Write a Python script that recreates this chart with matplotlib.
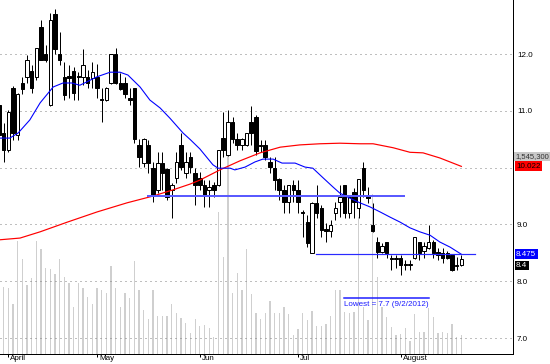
import matplotlib
matplotlib.use("Agg")
import matplotlib.pyplot as plt

plt.rcParams['font.family'] = ['Liberation Sans', 'DejaVu Sans']

# ---------------- data ----------------
opens = [11.10, 10.61, 10.31, 11.40, 10.57, 11.49, 11.60, 11.70, 11.60, 12.48,
         12.00, 11.10, 12.70, 12.00, 11.60, 11.61, 11.70, 11.61, 11.60, 11.60,
         11.58, 11.60, 11.21, 11.19, 11.49, 12.00, 11.49, 11.49, 11.23, 11.40,
         10.40, 10.08, 10.40, 9.99, 9.61, 10.08, 9.98, 9.61, 9.82, 10.40,
         9.91, 10.19, 9.91, 9.82, 9.69, 9.61, 9.69, 9.69, 10.52, 10.22,
         10.80, 10.50, 10.40, 10.40, 10.80, 10.89, 10.40, 10.40, 10.10, 9.99,
         9.80, 9.61, 9.39, 9.69, 9.61, 9.22, 9.04, 8.50, 9.38, 9.29,
         8.92, 8.88, 9.20, 9.39, 9.69, 9.20, 9.57, 9.29, 9.99, 9.52,
         8.99, 8.69, 8.51, 8.69, 8.41, 8.39, 8.41, 8.30, 8.29, 8.41,
         8.69, 8.53, 8.59, 8.69, 8.51, 8.50, 8.50, 8.46, 8.27, 8.29]
highs = [11.19, 10.79, 11.01, 11.44, 11.31, 11.60, 11.98, 11.81, 12.11, 12.60,
         12.16, 12.72, 12.79, 12.39, 11.86, 11.81, 11.77, 11.68, 12.09, 11.72,
         11.86, 11.82, 11.40, 11.42, 12.00, 12.11, 11.67, 11.60, 11.40, 11.40,
         10.50, 10.52, 10.49, 10.10, 10.27, 10.27, 9.99, 9.73, 10.27, 10.61,
         10.27, 10.27, 9.99, 9.92, 9.78, 9.78, 9.75, 10.31, 10.98, 11.01,
         10.89, 10.61, 10.52, 10.61, 11.09, 10.93, 10.49, 10.49, 10.19, 10.19,
         9.82, 9.69, 9.69, 9.78, 9.78, 9.25, 9.17, 9.39, 9.69, 9.34,
         9.03, 9.08, 9.39, 9.69, 9.69, 9.52, 9.64, 9.80, 10.10, 9.66,
         9.38, 8.78, 8.67, 8.69, 8.46, 8.46, 8.46, 8.37, 8.37, 8.78,
         8.69, 8.69, 8.99, 8.73, 8.59, 8.59, 8.53, 8.48, 8.43, 8.46]
lows = [10.49, 10.10, 10.27, 10.49, 10.49, 11.30, 11.49, 11.31, 11.54, 11.89,
        11.86, 11.09, 12.00, 11.81, 11.19, 11.23, 11.19, 11.19, 11.45, 11.40,
        11.40, 11.23, 10.80, 11.17, 11.47, 11.47, 11.37, 11.23, 11.10, 10.43,
        10.01, 10.01, 9.91, 9.39, 9.55, 9.61, 9.43, 9.11, 9.73, 9.96,
        9.82, 9.91, 9.34, 9.61, 9.31, 9.31, 9.48, 9.68, 10.19, 10.20,
        10.43, 10.31, 10.31, 10.38, 10.40, 10.22, 10.27, 10.13, 9.91, 9.61,
        9.43, 9.20, 9.20, 9.39, 9.20, 8.78, 8.60, 8.50, 9.11, 8.78,
        8.69, 8.78, 9.08, 9.13, 9.11, 9.11, 9.11, 9.11, 9.48, 9.38,
        8.87, 8.41, 8.50, 8.41, 8.20, 8.23, 8.11, 8.20, 8.20, 8.39,
        8.37, 8.41, 8.57, 8.41, 8.37, 8.32, 8.39, 8.18, 8.20, 8.27]
closes = [10.57, 10.31, 10.98, 10.61, 11.30, 11.38, 11.89, 11.40, 12.11, 11.89,
          11.89, 12.60, 12.09, 11.89, 11.28, 11.58, 11.31, 11.60, 11.81, 11.49,
          11.68, 11.40, 11.19, 11.40, 12.00, 11.49, 11.38, 11.30, 11.19, 10.50,
          10.19, 10.50, 10.08, 9.50, 10.08, 9.91, 9.48, 9.69, 10.10, 10.01,
          10.10, 10.01, 9.69, 9.69, 9.50, 9.66, 9.61, 10.31, 10.31, 10.80,
          10.50, 10.40, 10.50, 10.61, 10.61, 10.29, 10.38, 10.19, 10.01, 9.78,
          9.61, 9.39, 9.69, 9.61, 9.39, 9.20, 8.67, 9.38, 9.20, 8.90,
          8.88, 8.99, 9.29, 9.48, 9.20, 9.48, 9.39, 9.80, 9.61, 9.47,
          8.88, 8.51, 8.62, 8.50, 8.39, 8.41, 8.29, 8.29, 8.30, 8.78,
          8.50, 8.62, 8.69, 8.50, 8.46, 8.41, 8.41, 8.20, 8.29, 8.40]
# volume in thousands of shares
volumes = [500, 536, 528, 400, 904, 760, 552, 608, 904, 840,
           688, 680, 640, 760, 616, 568, 376, 568, 528, 456,
           400, 528, 512, 488, 704, 528, 376, 488, 448, 744,
           512, 352, 280, 512, 304, 304, 304, 400, 328, 288,
           248, 168, 280, 224, 232, 208, 136, 1136, 776, 1792,
           488, 648, 512, 840, 480, 328, 280, 328, 424, 328,
           328, 376, 320, 152, 200, 328, 272, 344, 224, 224,
           240, 304, 512, 512, 336, 328, 336, 1096, 376, 272,
           1280, 616, 376, 296, 216, 152, 160, 208, 104, 320,
           176, 176, 368, 296, 168, 176, 168, 240, 136, 152]

ma_short_idx = [0.2, 2.3, 4.1, 6.6, 8.8, 10.5, 11.6, 13.7, 15.6, 17.3, 18.8, 21.0,
                23.8, 25.9, 27.6, 30.2, 32.3, 34.5, 36.6, 39.4, 41.0, 43.0, 45.8,
                46.9, 49.5, 50.5, 52.7, 54.8, 56.5, 58.7, 60.6, 63.4, 65.5, 67.2,
                69.4, 71.5, 73.0, 75.2, 77.3, 79.4, 81.6, 83.7, 85.9, 88.0, 90.1,
                92.3, 94.4, 96.6, 99.0]
ma_short_val = [10.52, 10.52, 10.61, 10.84, 11.14, 11.31, 11.42, 11.49, 11.49, 11.45, 11.51, 11.60,
                11.68, 11.68, 11.63, 11.42, 11.19, 11.05, 10.87, 10.61, 10.49, 10.33, 10.05,
                9.99, 9.99, 9.96, 10.01, 10.10, 10.15, 10.15, 10.08, 10.08, 10.01, 9.99,
                9.82, 9.66, 9.55, 9.46, 9.38, 9.31, 9.22, 9.13, 9.04, 8.94, 8.87,
                8.81, 8.69, 8.60, 8.475]
ma_long_idx = [0.2, 4.5, 8.8, 14.6, 21.0, 27.4, 33.0, 37.3, 40.9, 43.0, 47.3, 51.6,
               55.9, 60.2, 64.4, 68.7, 73.0, 77.3, 80.1, 84.4, 88.0, 90.8, 94.4, 99.0]
ma_long_val = [8.73, 8.76, 8.87, 9.04, 9.22, 9.38, 9.50, 9.61, 9.71, 9.78, 9.96, 10.12,
               10.26, 10.36, 10.40, 10.42, 10.43, 10.42, 10.42, 10.35, 10.27, 10.26, 10.17, 10.022]

month_labels = ['April', 'May', 'Jun', 'Jul', 'August']
month_start_idx = [2, 21, 43, 64, 86]

grid_levels = [7.0, 8.0, 9.0, 10.0, 11.0, 12.0]
price_tick_labels = ['7.0', '8.0', '9.0', '', '11.0', '12.0']

support_level = 9.50
support_span = (31.9, 86.7)
current_level = 8.475
current_span = (67.9, 101.9)
lowest_level = 7.7
lowest_span = (73.9, 92.1)
lowest_text = 'Lowest = 7.7 (9/2/2012)'

last_volume_label = '1,545,300'
long_ma_label = '10.022'
short_ma_label = '8.475'
last_close_label = '8.4'

# ---------------- drawing ----------------
W, H, DPI = 550, 364, 100
PX = 72.0 / DPI
FS = 8 * PX

fig = plt.figure(figsize=(W / DPI, H / DPI), dpi=DPI)
rect = [0, 10 / H, 513 / W, 354 / H]
axv = fig.add_axes(rect)
ax = fig.add_axes(rect)
ax.patch.set_visible(False)

XL = (0.21, 110.06)
YL = (6.719, 12.951)

n = len(opens)
xs = list(range(n))

# volume
axv.bar(xs, volumes, width=0.28, color='#cfcfcf', linewidth=0)
axv.set_xlim(*XL)
axv.set_ylim(0, 354 * 8)
axv.axis('off')

# grid
for p in grid_levels:
    ax.axhline(p, color='#808080', lw=1 * PX, ls=(0, (1, 4)), zorder=1)

# candles
bw = 0.74
ax.vlines(xs, lows, highs, color='black', lw=1 * PX, zorder=3)
for i in range(n):
    o, c = opens[i], closes[i]
    lo, hi = min(o, c), max(o, c)
    h = max(hi - lo, 0.012)
    fc = 'white' if c >= o else 'black'
    ax.bar(i, h, bottom=lo, width=bw, facecolor=fc, edgecolor='black',
           linewidth=1 * PX, zorder=4)

# moving averages
ax.plot(ma_long_idx, ma_long_val, color='#ff0000', lw=1.2 * PX, zorder=5)
ax.plot(ma_short_idx, ma_short_val, color='#0000ff', lw=1.1 * PX, zorder=5)

# horizontal levels
ax.plot(support_span, [support_level] * 2, color='#5a5aff', lw=2 * PX, zorder=5)
ax.plot(current_span, [current_level] * 2, color='#2a2aff', lw=1.2 * PX, zorder=5)
ax.plot(lowest_span, [lowest_level] * 2, color='#1a1aff', lw=1.5 * PX, zorder=5)
ax.annotate(lowest_text, xy=(lowest_span[0], lowest_level), xytext=(0, -6 * PX),
            textcoords='offset points', ha='left', va='center', fontsize=FS,
            color='#1a1aff', zorder=6)

ax.set_xlim(*XL)
ax.set_ylim(*YL)

for s in ['left', 'top']:
    ax.spines[s].set_visible(False)
ax.spines['right'].set_linewidth(1 * PX)
ax.spines['bottom'].set_linewidth(1 * PX)

ax.yaxis.tick_right()
ax.set_yticks(grid_levels)
ax.set_yticklabels(price_tick_labels)
ax.tick_params(axis='y', length=0, pad=4 * PX, labelsize=FS)

ax.set_xticks(month_start_idx)
ax.set_xticklabels([])
ax.tick_params(axis='x', length=3 * PX, width=1 * PX, direction='out')
for idx, lab in zip(month_start_idx, month_labels):
    ax.annotate(lab, xy=(idx, 0), xycoords=('data', 'axes fraction'),
                xytext=(2 * PX, -5 * PX), textcoords='offset points',
                ha='left', va='center', fontsize=FS, color='black',
                annotation_clip=False)

# right side value boxes
def value_box(y, text, fc, tc, dx=3, size=FS):
    ax.annotate(text, xy=(1, y), xycoords=('axes fraction', 'data'),
                xytext=(dx * PX, 0), textcoords='offset points',
                ha='left', va='center', fontsize=size, color=tc, zorder=10,
                annotation_clip=False,
                bbox=dict(boxstyle='square,pad=0.18', fc=fc, ec='none'))

value_box(12.951 - 156.5 / 56.8, last_volume_label, '#c8c8c8', '#333333', dx=2, size=7.6 * PX)
value_box(10.022, long_ma_label, '#ff0000', '#000000')
value_box(8.475, short_ma_label, '#0000ff', '#ffffff')
value_box(12.951 - 265.5 / 56.8, last_close_label, '#000000', '#ffffff')

fig.savefig('out.png', dpi=DPI)
